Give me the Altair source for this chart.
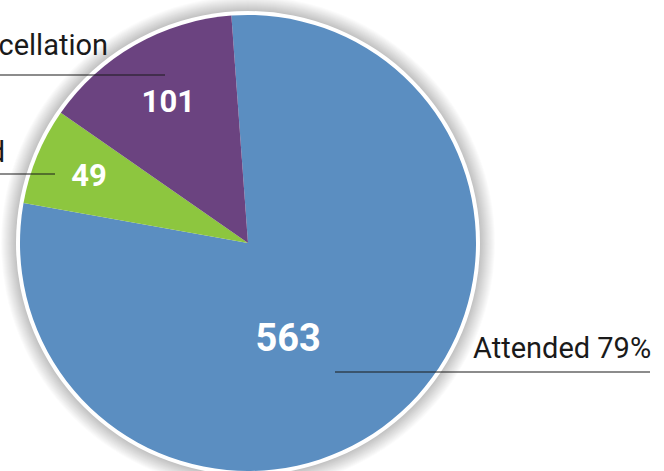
import math
import altair as alt
import pandas as pd

# Appointment outcomes
categories = ["Attended", "Did not attend", "Late cancellation"]
counts = [563, 49, 101]
colors = ["#5b8ec1", "#8dc63f", "#6b4380"]

W, H = 664, 471
CX, CY = 248, 243          # pie centre (pixels)
R = 228                    # pie radius
START = 2 * math.pi - 0.073  # blue slice starts just left of 12 o'clock
TAU = 2 * math.pi

df = pd.DataFrame({"cat": categories, "count": counts, "order": list(range(len(categories)))})
total = sum(counts)
pct_attended = round(counts[0] / total * 100)

theta = alt.Theta("count:Q", stack=True,
                  scale=alt.Scale(range=[START, START + TAU]))
order = alt.Order("order:Q")
centre = dict(x=alt.value(CX), y=alt.value(CY))
one = pd.DataFrame({"k": [0]})

layers = []

# soft drop shadow around the disc
for r in range(R + 19, R + 4, -1):
    layers.append(
        alt.Chart(one).mark_arc(radius=r, theta=0, theta2=TAU, color="#000000",
                                opacity=0.016).encode(**centre)
    )

# white rim
layers.append(
    alt.Chart(one).mark_arc(radius=R + 4, theta=0, theta2=TAU, color="#ffffff").encode(**centre)
)

# slices
layers.append(
    alt.Chart(df).mark_arc(radius=R).encode(
        theta=theta,
        order=order,
        color=alt.Color("cat:N", scale=alt.Scale(domain=categories, range=colors), legend=None),
        **centre,
    )
)

# value labels inside each slice
label_style = {
    "Attended": dict(radius=105, thetaOffset=0.342, size=38),
    "Did not attend": dict(radius=172, thetaOffset=0.0, size=31),
    "Late cancellation": dict(radius=161, thetaOffset=0.0, size=31),
}
for cat, st in label_style.items():
    layers.append(
        alt.Chart(df).mark_text(
            radius=st["radius"], thetaOffset=st["thetaOffset"], fontSize=st["size"],
            font="Roboto", fontWeight="bold", color="#ffffff", align="center", baseline="middle",
        ).encode(
            theta=theta,
            order=order,
            text=alt.condition(f"datum.cat == '{cat}'", alt.Text("count:Q"), alt.value("")),
            **centre,
        )
    )

# callout names with leader lines
callouts = [
    # text, text x, baseline y, align, rule x0, rule x1, rule y
    (f"{categories[0]} {pct_attended}%", 473, 358, "left", 335, 650, 372),
    (categories[1], 5, 162, "right", -5, 55, 174),
    (categories[2], 108, 55, "right", -5, 165, 75),
]
for txt, tx, ty, al, x0, x1, ry in callouts:
    layers.append(
        alt.Chart(one).mark_text(
            text=txt, font="Roboto", fontSize=29, color="#1a1a1a", align=al, baseline="alphabetic",
        ).encode(x=alt.value(tx), y=alt.value(ty))
    )
    layers.append(
        alt.Chart(one).mark_rule(color="#1a1a1a", strokeWidth=1.2).encode(
            x=alt.value(x0), x2=alt.value(x1), y=alt.value(ry)
        )
    )

chart = alt.layer(*layers).properties(
    width=W, height=H, padding=0, autosize=alt.AutoSizeParams(type="none"), background="#ffffff"
).configure_view(stroke=None)

chart.save("out.html", embed_options={"renderer": "svg", "actions": False})
